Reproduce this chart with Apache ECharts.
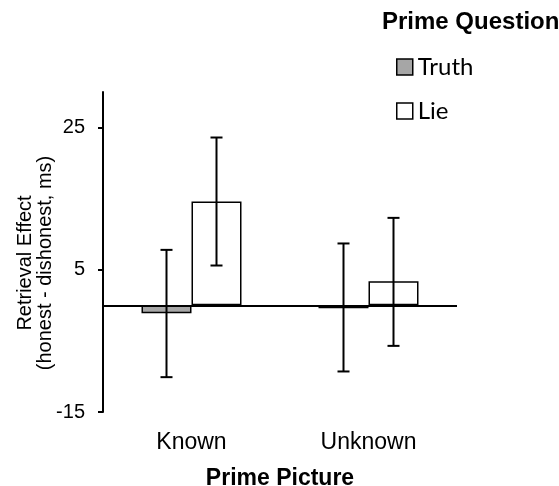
<!DOCTYPE html>
<html>
<head>
<meta charset="utf-8">
<script src="https://cdn.jsdelivr.net/npm/echarts@6/dist/echarts.min.js"></script>
<style>
  html, body { margin: 0; padding: 0; background: #fff; }
  #chart { width: 559px; height: 486px; }
</style>
</head>
<body>
<div id="chart"></div>
<script>
// data
var categories = ["Known", "Unknown"];
var truthValues = [-1.1, -0.4];
var lieValues = [14.6, 3.4];
var truthLow = [-10.1, -9.3];
var truthHigh = [7.8, 8.7];
var lieLow = [5.6, -5.7];
var lieHigh = [23.6, 12.3];
var yTicks = [-15, 5, 25];

var font = "Liberation Sans, Arial, sans-serif";
var barW = 50;

function errData(low, high) {
  return categories.map(function (c, i) {
    return [i, low[i], high[i]];
  });
}

// 误差线
function errorBar(offset) {
  return function (params, api) {
    var i = api.value(0);
    var lo = api.coord([i, api.value(1)]);
    var hi = api.coord([i, api.value(2)]);
    var x = lo[0] + offset;
    var cap = 6;
    var st = { stroke: "#000", lineWidth: 2 };
    return {
      type: "group",
      children: [
        { type: "line", shape: { x1: x, y1: hi[1], x2: x, y2: lo[1] }, style: st },
        { type: "line", shape: { x1: x - cap, y1: hi[1], x2: x + cap, y2: hi[1] }, style: st },
        { type: "line", shape: { x1: x - cap, y1: lo[1], x2: x + cap, y2: lo[1] }, style: st }
      ]
    };
  };
}

var myChart = echarts.init(document.getElementById("chart"));
var option = {
  animation: false,
  title: {
    text: "Prime Question",
    left: 382,
    top: 10,
    padding: 0,
    textStyle: { fontFamily: font, fontWeight: "bold", fontSize: 24, color: "#000" }
  },
  legend: {
    orient: "vertical",
    left: 396,
    top: 55,
    padding: 0,
    itemWidth: 16,
    itemHeight: 16,
    itemGap: 20,
    textStyle: { fontFamily: "Lato, Open Sans, sans-serif", fontSize: 24, lineHeight: 24, color: "#000" },
    data: [
      { name: "Truth", icon: "rect", itemStyle: { color: "#a6a6a6", borderColor: "#000", borderWidth: 1.5 } },
      { name: "Lie", icon: "rect", itemStyle: { color: "#fff", borderColor: "#000", borderWidth: 1.5 } }
    ]
  },
  grid: { left: 103, right: 102, top: 92, bottom: 74, outerBoundsMode: "none", containLabel: false },
  xAxis: {
    type: "category",
    data: categories,
    axisLine: { show: false, onZero: false },
    axisTick: { show: false },
    axisLabel: { margin: 19, fontFamily: font, fontSize: 23, color: "#000" },
    name: "Prime Picture",
    nameLocation: "middle",
    nameGap: 55,
    nameMoveOverlap: false,
    nameTextStyle: { fontFamily: font, fontWeight: "bold", fontSize: 23, color: "#000" }
  },
  yAxis: {
    type: "value",
    min: -15,
    max: 30,
    splitLine: { show: false },
    axisLine: { show: true, onZero: false, lineStyle: { color: "#000", width: 2 } },
    axisTick: { show: true, length: 5, customValues: yTicks, lineStyle: { color: "#000", width: 2 } },
    axisLabel: { customValues: yTicks, margin: 18, fontFamily: font, fontSize: 20, color: "#000" },
    name: "Retrieval Effect\n(honest - dishonest, ms)",
    nameLocation: "middle",
    nameRotate: 90,
    nameGap: 48,
    nameMoveOverlap: false,
    nameTextStyle: { fontFamily: font, fontSize: 20, lineHeight: 20, color: "#000", padding: [0, 22, 0, 0] }
  },
  series: [
    {
      name: "Truth",
      type: "bar",
      data: truthValues,
      barWidth: barW,
      barGap: "0%",
      itemStyle: { color: "#a6a6a6", borderColor: "#000", borderWidth: 1.5 },
      markLine: {
        silent: true,
        symbol: "none",
        label: { show: false },
        lineStyle: { color: "#000", width: 2, type: "solid" },
        data: [{ yAxis: 0 }]
      }
    },
    {
      name: "Lie",
      type: "bar",
      data: lieValues,
      barWidth: barW,
      barGap: "0%",
      itemStyle: { color: "#fff", borderColor: "#000", borderWidth: 1.5 }
    },
    {
      type: "custom",
      renderItem: errorBar(-barW / 2),
      data: errData(truthLow, truthHigh),
      encode: { x: 0, y: [1, 2] },
      z: 10
    },
    {
      type: "custom",
      renderItem: errorBar(barW / 2),
      data: errData(lieLow, lieHigh),
      encode: { x: 0, y: [1, 2] },
      z: 10
    }
  ]
};
myChart.setOption(option);
</script>
</body>
</html>
